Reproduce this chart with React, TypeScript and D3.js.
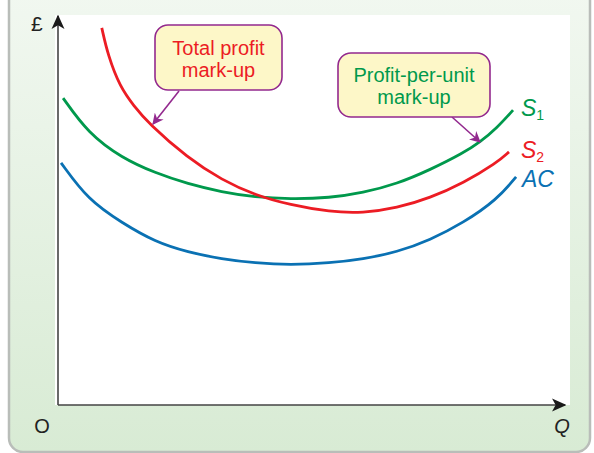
import React from 'react';
import * as d3 from 'd3';

// curve points: quantity (0-100) and £ (0-100)
const acCurve: [number, number][] = [
  [0.6, 62.1], [5.9, 52.6], [12.6, 46.7], [19.1, 41.8], [25.5, 39.2], [32.2, 37.4],
  [38.7, 36.4], [45.6, 35.9], [53.4, 36.4], [59.9, 37.4], [66.6, 39.2], [73.1, 42.3],
  [79.6, 46.7], [86.2, 52.6], [90.0, 58.5],
];
const s1Curve: [number, number][] = [
  [1.0, 78.7], [5.9, 69.7], [12.6, 63.3], [19.1, 59.5], [25.5, 56.7], [32.2, 54.6],
  [38.7, 53.3], [45.6, 52.8], [53.4, 53.1], [59.9, 54.4], [66.6, 56.7], [73.1, 60.3],
  [79.6, 64.6], [82.9, 67.4], [86.2, 71.0], [89.4, 75.6],
];
const s2Curve: [number, number][] = [
  [8.6, 96.7], [9.8, 89.7], [12.2, 81.5], [14.9, 76.7], [17.7, 72.3], [25.5, 63.3],
  [32.2, 57.7], [38.7, 53.8], [45.6, 51.3], [53.4, 49.5], [59.9, 49.2], [66.6, 50.5],
  [73.1, 53.1], [79.6, 56.9], [86.2, 62.1], [88.6, 64.9],
];

const GREEN = '#00994c';
const RED = '#ec1c24';
const BLUE = '#0a71b3';
const PURPLE = '#93298e';

const width = 594;
const height = 453;
const margin = { top: 15, right: 27, bottom: 48, left: 58 };

export default function App() {
  const x = d3.scaleLinear().domain([0, 100]).range([margin.left, width - margin.right]);
  const y = d3.scaleLinear().domain([0, 100]).range([height - margin.bottom, margin.top]);
  const line = d3.line<[number, number]>()
    .x((d) => x(d[0]))
    .y((d) => y(d[1]))
    .curve(d3.curveBasis);

  const font = 'Arial, "Liberation Sans", sans-serif';
  const x0 = x(0);
  const y0 = y(0);

  return (
    <svg width={width} height={height} style={{ position: 'absolute', left: 0, top: 0 }}>
      <defs>
        <linearGradient id="bg" x1="0" y1="0" x2="0" y2="1">
          <stop offset="0" stopColor="#f2f8f1" />
          <stop offset="1" stopColor="#d8ebd4" />
        </linearGradient>
        <marker id="arr" viewBox="0 0 10 10" refX="9" refY="5" markerWidth="7" markerHeight="7" orient="auto">
          <path d="M0,0 L10,5 L0,10 L3,5 Z" fill={PURPLE} />
        </marker>
        <marker id="axarr" viewBox="0 0 10 10" refX="9" refY="5" markerWidth="9" markerHeight="9" orient="auto">
          <path d="M0,0.5 L10,5 L0,9.5 L2.5,5 Z" fill="#1a1a1a" />
        </marker>
      </defs>

      {/* panel */}
      <rect x={9} y={-20} width={581} height={472} rx={14} fill="url(#bg)" stroke="#b9bdb9" strokeWidth={2.5} />
      <rect x={x0 - 3} y={margin.top} width={width - margin.right - x0 + 6} height={y0 - margin.top} fill="#ffffff" />

      {/* axes */}
      <line x1={x0} y1={y0} x2={x0} y2={margin.top + 1} stroke="#444" strokeWidth={1.6} markerEnd="url(#axarr)" />
      <line x1={x0} y1={y0} x2={width - margin.right - 2} y2={y0} stroke="#444" strokeWidth={1.6} markerEnd="url(#axarr)" />
      <text x={31} y={31} fontFamily={font} fontSize={21} fill="#222">£</text>
      <text x={42} y={433} fontFamily={font} fontSize={20} fill="#222" textAnchor="middle">O</text>
      <text x={562} y={433} fontFamily={font} fontSize={20} fontStyle="italic" fill="#222" textAnchor="middle">Q</text>

      {/* curves */}
      <path d={line(acCurve) ?? ''} fill="none" stroke={BLUE} strokeWidth={2.8} />
      <path d={line(s1Curve) ?? ''} fill="none" stroke={GREEN} strokeWidth={2.8} />
      <path d={line(s2Curve) ?? ''} fill="none" stroke={RED} strokeWidth={2.8} />

      {/* curve labels */}
      <text x={521} y={116} fontFamily={font} fontSize={23} fontStyle="italic" fill={GREEN}>
        S<tspan fontSize={14} fontStyle="normal" dy={4}>1</tspan>
      </text>
      <text x={521} y={158} fontFamily={font} fontSize={23} fontStyle="italic" fill={RED}>
        S<tspan fontSize={14} fontStyle="normal" dy={4}>2</tspan>
      </text>
      <text x={522} y={187} fontFamily={font} fontSize={23} fontStyle="italic" fill={BLUE}>AC</text>

      {/* callouts */}
      <line x1={179} y1={91} x2={153} y2={124} stroke={PURPLE} strokeWidth={1.6} markerEnd="url(#arr)" />
      <rect x={155} y={25} width={127} height={65} rx={13} fill="#fdf7c8" stroke={PURPLE} strokeWidth={1.6} />
      <text x={218.5} y={55} fontFamily={font} fontSize={20} fill={RED} textAnchor="middle">Total profit</text>
      <text x={218.5} y={77} fontFamily={font} fontSize={20} fill={RED} textAnchor="middle">mark-up</text>

      <line x1={452} y1={117} x2={480} y2={142} stroke={PURPLE} strokeWidth={1.6} markerEnd="url(#arr)" />
      <rect x={338} y={53} width={152} height={64} rx={13} fill="#fdf7c8" stroke={PURPLE} strokeWidth={1.6} />
      <text x={414} y={82} fontFamily={font} fontSize={20} fill={GREEN} textAnchor="middle">Profit-per-unit</text>
      <text x={414} y={104} fontFamily={font} fontSize={20} fill={GREEN} textAnchor="middle">mark-up</text>
    </svg>
  );
}
